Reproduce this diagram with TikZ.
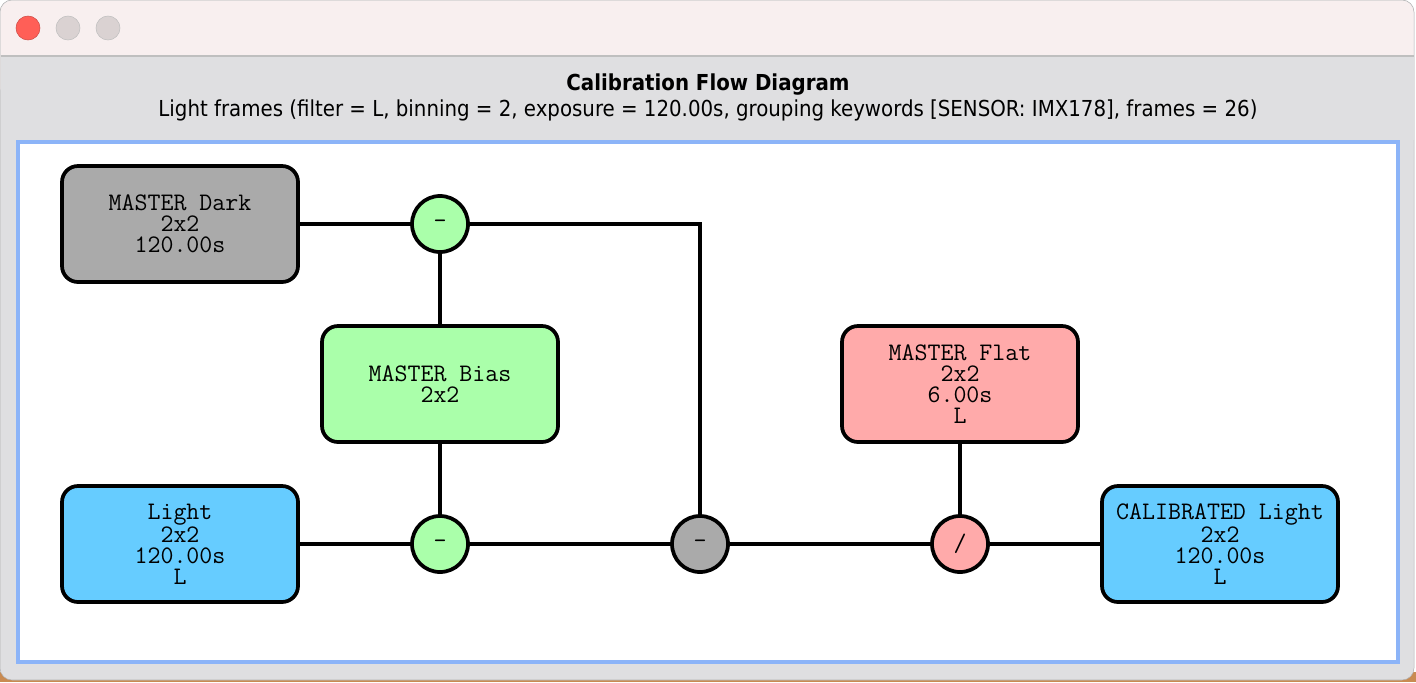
\documentclass[tikz,border=0pt]{standalone}
\usepackage{fontspec}
\newfontfamily\headfont{DejaVu Sans Condensed}
\usetikzlibrary{positioning}

\definecolor{titlebar}{HTML}{F8EFEF}
\definecolor{winbody}{HTML}{DFDFE1}
\definecolor{canvasblue}{HTML}{8CB4F8}
\definecolor{desk}{HTML}{C98B52}
\definecolor{closered}{HTML}{FF5F57}
\definecolor{darkfill}{HTML}{AAAAAA}
\definecolor{biasfill}{HTML}{AAFFAA}
\definecolor{lightfill}{HTML}{66CCFF}
\definecolor{flatfill}{HTML}{FFAAAA}

\begin{document}
\begin{tikzpicture}[x=0.75pt, y=-0.75pt,
  framebox/.style={draw, rectangle, rounded corners=12pt, line width=2.8pt,
    minimum width=177pt, minimum height=87pt, align=center,
    font=\ttfamily\fontsize{18.9}{15.75}\selectfont},
  opnode/.style={draw, circle, line width=2.8pt, minimum size=42pt,
    inner sep=0pt, font=\ttfamily\fontsize{18.9}{15.75}\selectfont},
  link/.style={line width=2.5pt}]
\useasboundingbox (0,0) rectangle (1416,682);

% Window
\fill[white] (0,0) rectangle (1416,682);
\fill[desk] (0,672) rectangle (1416,682);
\filldraw[fill=winbody, draw=black!30, rounded corners=9pt] (0,0) rectangle (1414,680);
\fill[titlebar, rounded corners=9pt] (0.5,0.5) rectangle (1413.5,100);
\fill[winbody] (0.5,56) rectangle (1413.5,140);
\draw[black!25, line width=1pt] (0.5,56) -- (1413.5,56);
\filldraw[fill=closered, draw=closered!80!black] (28,28) circle (12);
\filldraw[fill=black!12!titlebar, draw=black!25] (68,28) circle (12);
\filldraw[fill=black!12!titlebar, draw=black!25] (108,28) circle (12);

% Titles
\node[font=\headfont\bfseries\fontsize{16.5}{18}\selectfont] (title) at (708,85) {Calibration Flow Diagram};
\node[font=\headfont\fontsize{16.5}{18}\selectfont] (subtitle) at (708,110)
  {Light frames (filter = L, binning = 2, exposure = 120.00s, grouping keywords [SENSOR: IMX178], frames = 26)};

% Canvas
\filldraw[fill=white, draw=canvasblue, line width=3pt] (18,142) rectangle (1397.5,662);

% Define nodes
\node[framebox, fill=darkfill] (dark) at (180,224) {MASTER Dark\\2x2\\120.00s};
\node[framebox, fill=biasfill] (bias) at (440,384) {MASTER Bias\\2x2};
\node[framebox, fill=lightfill] (light) at (180,544) {Light\\2x2\\120.00s\\L};
\node[framebox, fill=flatfill] (flat) at (960,384) {MASTER Flat\\2x2\\6.00s\\L};
\node[framebox, fill=lightfill] (calib) at (1220,544) {CALIBRATED Light\\2x2\\120.00s\\L};

\node[opnode, fill=biasfill] (subdark) at (440,224) {-};
\node[opnode, fill=biasfill] (sublight) at (440,544) {-};
\node[opnode, fill=darkfill] (subbias) at (700,544) {-};
\node[opnode, fill=flatfill] (divflat) at (960,544) {/};

% Draw links
\draw[link] (dark) -- (subdark);
\draw[link] (subdark) -- (bias);
\draw[link] (subdark) -| (subbias);
\draw[link] (bias) -- (sublight);
\draw[link] (light) -- (sublight);
\draw[link] (sublight) -- (subbias);
\draw[link] (subbias) -- (divflat);
\draw[link] (flat) -- (divflat);
\draw[link] (divflat) -- (calib);

\end{tikzpicture}
\end{document}
